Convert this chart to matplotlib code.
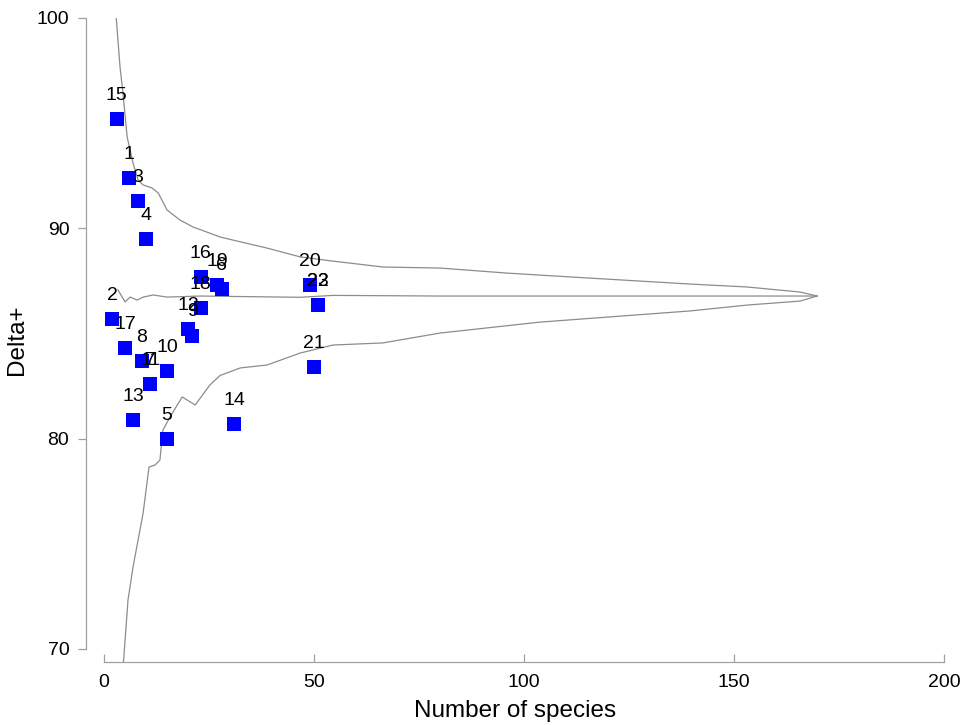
import matplotlib.pyplot as plt

# samples: label, number of species, Delta+
labels = ['1', '2', '3', '4', '5', '6', '7', '8', '9', '10', '11', '12',
          '13', '14', '15', '16', '17', '18', '19', '20', '21', '22', '23']
n_species = [6, 2, 8, 10, 15, 28, 11, 9, 21, 15, 11, 20,
             7, 31, 3, 23, 5, 23, 27, 49, 50, 51, 51]
delta_plus = [92.4, 85.7, 91.3, 89.5, 80.0, 87.1, 82.6, 83.7, 84.9, 83.2, 82.6, 85.2,
              80.9, 80.7, 95.2, 87.7, 84.3, 86.2, 87.3, 87.3, 83.4, 86.35, 86.35]

# 95% funnel and mean
upper_x = [2.9, 3.8, 4.5, 5.5, 6.2, 6.9, 8.1, 9.3, 11.4, 12.9, 15.0, 18.1, 21.2,
           24.5, 27.6, 30.7, 38.8, 46.7, 54.5, 66.4, 80, 96, 111.7, 139.5, 153.1,
           165.7, 169.8]
upper_y = [100.0, 97.67, 96.43, 94.34, 93.72, 93.1, 92.3, 92.06, 91.92, 91.68, 90.87,
           90.39, 90.06, 89.82, 89.59, 89.44, 89.06, 88.64, 88.44, 88.16, 88.11, 87.87,
           87.68, 87.35, 87.21, 86.97, 86.78]
lower_x = [4.3, 5.7, 6.9, 9.3, 10.7, 12.1, 13.3, 14.0, 15.7, 18.6, 21.7, 25.2, 27.6,
           32.4, 38.8, 46.7, 54.5, 66.4, 80, 103.8, 139.5, 153.1, 165.7, 169.8]
lower_y = [68.5, 72.33, 73.9, 76.46, 78.65, 78.74, 78.98, 80.4, 81.03, 81.98, 81.6,
           82.55, 83.0, 83.36, 83.5, 84.07, 84.45, 84.55, 85.02, 85.54, 86.07, 86.35,
           86.54, 86.78]
mean_x = [3.3, 5.0, 6.2, 7.9, 9.3, 11.7, 15.0, 23.0, 46.7, 54.5, 80, 120, 169.8]
mean_y = [87.07, 86.5, 86.73, 86.59, 86.73, 86.83, 86.73, 86.78, 86.72, 86.81, 86.78,
          86.78, 86.78]

plt.rcParams['font.family'] = ['Liberation Sans', 'DejaVu Sans']

fig = plt.figure(figsize=(9.61, 7.25), dpi=100)
ax = fig.add_axes([0.0895, 0.0869, 0.8928, 0.8883])

line_col = '#8c8c8c'
ax.plot(upper_x, upper_y, color=line_col, lw=0.9)
ax.plot(lower_x, lower_y, color=line_col, lw=0.9)
ax.plot(mean_x, mean_y, color=line_col, lw=0.9)

ax.plot(n_species, delta_plus, 's', color='#0000ff', markersize=10, markeredgewidth=0)
for lab, x, y in zip(labels, n_species, delta_plus):
    ax.annotate(lab, (x, y), xytext=(0, 17), textcoords='offset points',
                ha='center', va='center', fontsize=14)

ax.set_xlim(-4.3, 200)
ax.set_ylim(69.38, 100)
ax.set_xticks([0, 50, 100, 150, 200])
ax.set_yticks([70, 80, 90, 100])

for s in ['top', 'right']:
    ax.spines[s].set_visible(False)
ax.spines['left'].set_bounds(70, 100)
ax.spines['bottom'].set_bounds(0, 200)
for s in ['left', 'bottom']:
    ax.spines[s].set_color('#a0a0a0')
    ax.spines[s].set_linewidth(0.9)

ax.tick_params(axis='y', direction='out', length=6, width=0.9, color='#a0a0a0',
               labelsize=14, pad=6)
ax.tick_params(axis='x', direction='in', length=6, width=0.9, color='#a0a0a0',
               labelsize=14, pad=9)

ax.set_xlabel('Number of species', fontsize=17.5, labelpad=6)
ax.set_ylabel('Delta+', fontsize=17.5, labelpad=6)

fig.savefig('out.png', dpi=100)
